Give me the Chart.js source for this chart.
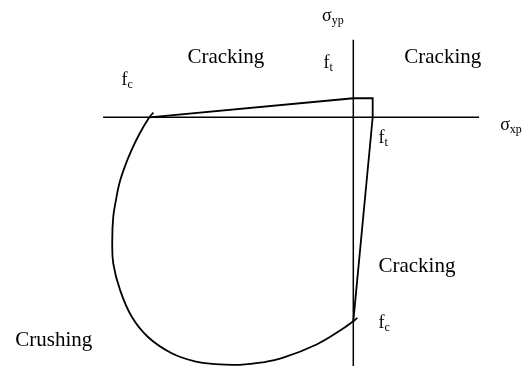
<!DOCTYPE html>
<html>
<head>
<meta charset="utf-8">
<script src="https://cdn.jsdelivr.net/npm/chart.js@4"></script>
<style>
  html, body { margin: 0; padding: 0; background: #fff; }
  #wrap { width: 529px; height: 366px; position: relative; }
</style>
</head>
<body>
<div id="wrap"><canvas id="envelope-chart"></canvas></div>
<script>
// stresses in MPa, compression negative
const fc = -30;
const ft = 2.85;

// compression-compression curve (sigma_xp, sigma_yp)
const curveX = [-29.4, -30.0, -31.4, -32.6, -33.6, -34.4, -34.9, -35.3, -35.45, -35.3, -34.3, -32.6, -30.2, -26.7, -23.3, -20.3, -16.7, -13.4, -10.3, -5.4, -2.0, 0, 0.6];
const curveY = [0.7, 0, -2.35, -4.8, -7.25, -9.7, -12.15, -14.6, -18.0, -21.5, -25.4, -29.3, -32.3, -34.7, -35.9, -36.3, -36.4, -36.05, -35.35, -33.4, -31.4, -30.0, -29.5];

// tension-compression / tension-tension branches
const crackX = [fc, 0, ft, ft, 0];
const crackY = [0, 2.8, 2.8, 0, fc];

// axis extents
const axisXRange = [-36.8, 18.5];
const axisYRange = [11.4, -37];

const toPoints = (xs, ys) => xs.map((x, i) => ({ x: x, y: ys[i] }));

/* ============================================= */
/*                  Labels                       */
/* ============================================= */
const labels = [
  { text: "Cracking", x: -24.4, y: 8.0 },
  { text: "Cracking", x: 7.5, y: 8.0 },
  { text: "Cracking", x: 3.7, y: -22.7 },
  { text: "Crushing", x: -49.7, y: -33.7 },
  { text: "f", sub: "c", x: -34.1, y: 4.75 },
  { text: "f", sub: "t", x: -4.4, y: 7.3 },
  { text: "f", sub: "t", x: 3.7, y: -3.8 },
  { text: "f", sub: "c", x: 3.7, y: -31.0 },
  { text: "\u03c3", sub: "yp", x: -4.6, y: 14.2 },
  { text: "\u03c3", sub: "xp", x: 21.6, y: -1.9 },
];

const labelPlugin = {
  id: "labels",
  afterDatasetsDraw(chart) {
    const ctx = chart.ctx;
    const sx = chart.scales.x;
    const sy = chart.scales.y;
    ctx.save();
    ctx.fillStyle = "#000";
    ctx.textBaseline = "alphabetic";
    ctx.textAlign = "left";
    labels.forEach((l) => {
      const px = sx.getPixelForValue(l.x);
      const py = sy.getPixelForValue(l.y);
      if (l.sub) {
        ctx.font = '18px "Liberation Serif"';
        ctx.fillText(l.text, px, py);
        const w = ctx.measureText(l.text).width;
        ctx.font = '12px "Liberation Serif"';
        ctx.fillText(l.sub, px + w, py + 3);
      } else {
        ctx.font = '21px "Liberation Serif"';
        ctx.fillText(l.text, px, py);
      }
    });
    ctx.restore();
  },
};

/* ============================================= */
/*                  Chart                        */
/* ============================================= */
const lineStyle = {
  showLine: true,
  borderColor: "#000",
  pointRadius: 0,
  fill: false,
};

const envelopeChart = new Chart(document.querySelector("#envelope-chart"), {
  type: "scatter",
  data: {
    datasets: [
      {
        ...lineStyle,
        label: "sigma_xp axis",
        data: toPoints(axisXRange, [0, 0]),
        borderWidth: 1.5,
      },
      {
        ...lineStyle,
        label: "sigma_yp axis",
        data: toPoints([0, 0], axisYRange),
        borderWidth: 1.5,
      },
      {
        ...lineStyle,
        label: "crushing",
        data: toPoints(curveX, curveY),
        borderWidth: 1.8,
        tension: 0.4,
      },
      {
        ...lineStyle,
        label: "cracking",
        data: toPoints(crackX, crackY),
        borderWidth: 1.8,
      },
    ],
  },
  options: {
    responsive: true,
    maintainAspectRatio: false,
    animation: false,
    layout: { padding: 0 },
    scales: {
      x: { type: "linear", display: false, min: -51.96, max: 25.84 },
      y: { type: "linear", display: false, min: -36.57, max: 17.25 },
    },
    plugins: {
      legend: { display: false },
      tooltip: { enabled: false },
    },
  },
  plugins: [labelPlugin],
});
</script>
</body>
</html>
